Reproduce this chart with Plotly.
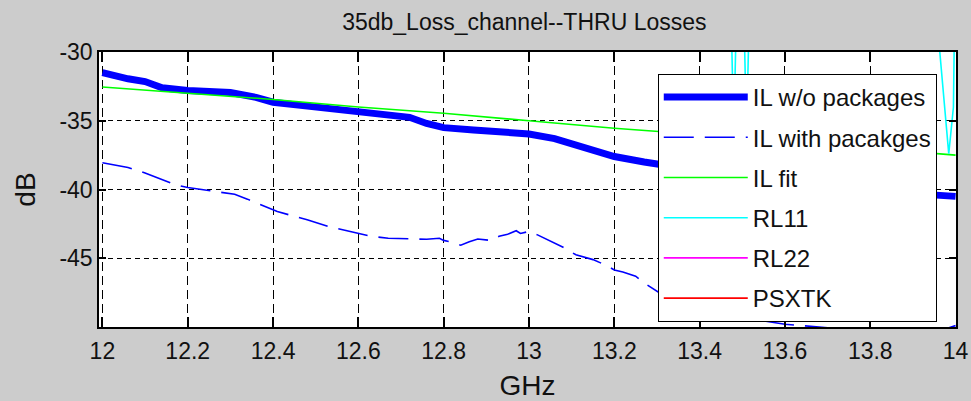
import plotly.graph_objects as go

# ---------------- data ----------------
f_il = [12.0, 12.03, 12.06, 12.1, 12.14, 12.2, 12.25, 12.3, 12.36, 12.4, 12.47, 12.53,
        12.6, 12.645, 12.72, 12.76, 12.8, 12.87, 12.95, 13.0, 13.06, 13.11, 13.15, 13.2,
        13.27, 13.31, 13.4, 13.5, 13.6, 13.7, 13.8, 13.9, 14.0]
il_wo_pkg = [-31.5, -31.75, -31.95, -32.15, -32.6, -32.8, -32.9, -32.95, -33.3, -33.65, -33.9, -34.1,
             -34.27, -34.44, -34.75, -35.2, -35.5, -35.67, -35.85, -35.96, -36.3, -36.75, -37.2, -37.6,
             -38.0, -38.2, -38.7, -39.1, -39.5, -39.8, -40.1, -40.3, -40.5]

f_pkg = [12.0, 12.06, 12.1, 12.14, 12.17, 12.2, 12.23, 12.27, 12.31, 12.34, 12.37, 12.41, 12.45,
         12.48, 12.53, 12.58, 12.63, 12.67, 12.72, 12.76, 12.79, 12.8, 12.82, 12.84, 12.86, 12.88,
         12.91, 12.93, 12.95, 12.97, 12.98, 13.0, 13.02, 13.04, 13.08, 13.11, 13.15, 13.18, 13.2,
         13.22, 13.25, 13.27, 13.31, 13.4, 13.5, 13.6, 13.7, 13.8, 13.9, 13.98, 14.0]
il_with_pkg = [-38.05, -38.4, -38.8, -39.3, -39.65, -39.85, -40.0, -40.15, -40.35, -40.7, -41.1, -41.6, -41.95,
               -42.2, -42.7, -43.05, -43.4, -43.55, -43.6, -43.62, -43.55, -43.7, -43.85, -44.05, -43.8, -43.6,
               -43.7, -43.4, -43.25, -43.0, -43.2, -43.05, -43.3, -43.6, -44.2, -44.75, -45.1, -45.5, -45.85,
               -46.0, -46.3, -46.8, -47.6, -48.5, -49.3, -49.8, -50.05, -50.4, -50.6, -50.1, -49.9]

f_fit = [12.0, 12.2, 12.4, 12.6, 12.8, 13.0, 13.2, 13.4, 13.6, 13.8, 14.0]
il_fit = [-32.55, -32.98, -33.45, -34.0, -34.46, -35.0, -35.55, -36.0, -36.5, -37.0, -37.5]

f_rl11 = [12.0, 12.5, 13.0, 13.45, 13.475, 13.48, 13.485, 13.505, 13.51, 13.515, 13.7, 13.9,
          13.96, 13.963, 13.984, 13.995, 13.997, 14.0]
rl11 = [-24.0, -22.0, -23.0, -26.0, -29.0, -36.0, -29.0, -29.0, -36.0, -29.0, -25.0, -27.0,
        -29.5, -30.0, -37.4, -34.0, -29.0, -28.0]

f_rl22 = [12.0, 12.5, 13.0, 13.5, 14.0]
rl22 = [-21.0, -20.0, -22.0, -24.0, -23.0]

f_psxtk = [12.0, 12.5, 13.0, 13.5, 14.0]
psxtk = [-58.0, -57.0, -59.0, -60.0, -61.0]

x_ticks = [12, 12.2, 12.4, 12.6, 12.8, 13, 13.2, 13.4, 13.6, 13.8, 14]
x_tick_labels = ["12", "12.2", "12.4", "12.6", "12.8", "13", "13.2", "13.4", "13.6", "13.8", "14"]
y_ticks = [-45, -40, -35, -30]
y_tick_labels = ["-45", "-40", "-35", "-30"]

# ---------------- figure ----------------
FONT = "Liberation Sans, Arial, sans-serif"
fig = go.Figure()
fig.add_trace(go.Scatter(x=f_il, y=il_wo_pkg, mode="lines", name="IL w/o packages", legendgroup="a",
                         line=dict(color="#0000FF", width=7)))
fig.add_trace(go.Scatter(x=f_pkg, y=il_with_pkg, mode="lines", name="IL with pacakges", legendgroup="b",
                         line=dict(color="#0000FF", width=1.6, dash="30px,11px")))
fig.add_trace(go.Scatter(x=f_fit, y=il_fit, mode="lines", name="IL fit", legendgroup="c",
                         line=dict(color="#00FF00", width=1.6)))
fig.add_trace(go.Scatter(x=f_rl11, y=rl11, mode="lines", name="RL11", legendgroup="d",
                         line=dict(color="#00FFFF", width=1.6)))
fig.add_trace(go.Scatter(x=f_rl22, y=rl22, mode="lines", name="RL22", legendgroup="e",
                         line=dict(color="#FF00FF", width=1.6)))
fig.add_trace(go.Scatter(x=f_psxtk, y=psxtk, mode="lines", name="PSXTK", legendgroup="f",
                         line=dict(color="#FF0000", width=1.6)))

fig.update_layout(
    width=971, height=401,
    margin=dict(l=99, r=15, t=52, b=74, autoexpand=False),
    paper_bgcolor="#CCCCCC", plot_bgcolor="#FFFFFF",
    font=dict(family=FONT, size=23, color="#111111"),
    title=dict(text="35db_Loss_channel--THRU Losses", x=0.540, xanchor="center",
               y=0.945, yanchor="middle", font=dict(size=23)),
    showlegend=True,
    legend=dict(x=0.652, y=0.92, xanchor="left", yanchor="top",
                bgcolor="#FFFFFF", bordercolor="#000000", borderwidth=1,
                font=dict(size=24), itemwidth=84, tracegroupgap=6,
                traceorder="grouped", entrywidth=302, entrywidthmode="pixels"),
)
fig.update_xaxes(range=[11.992, 14.001], tickvals=x_ticks, ticktext=x_tick_labels,
                 automargin=False,
                 showline=True, linecolor="#000000", linewidth=1.5, mirror="ticks",
                 ticks="inside", ticklen=10, tickcolor="#000000", tickwidth=1.5,
                 ticklabelstandoff=3,
                 showgrid=True, gridcolor="#000000", gridwidth=1.2, griddash="9px,5px",
                 zeroline=False, title=dict(text="GHz", standoff=15))
fig.update_yaxes(range=[-50, -30], tickvals=y_ticks, ticktext=y_tick_labels,
                 automargin=False,
                 showline=True, linecolor="#000000", linewidth=1.5, mirror="ticks",
                 ticks="inside", ticklen=7, tickcolor="#000000", tickwidth=1.5,
                 showgrid=True, gridcolor="#000000", gridwidth=1.2, griddash="5px,4px",
                 zeroline=False, title=dict(text="dB", standoff=16))

fig.write_html("out.html")
